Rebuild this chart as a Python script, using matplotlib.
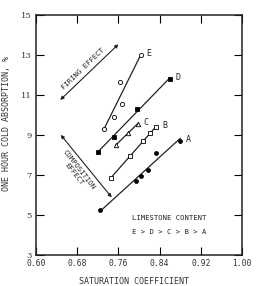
import numpy as np
import matplotlib
matplotlib.use("Agg")
import matplotlib.pyplot as plt

# ---- data ----
E_x = [0.732, 0.751, 0.767, 0.763, 0.803]
E_y = [9.29, 9.91, 10.56, 11.66, 12.97]
D_x = [0.720, 0.751, 0.797, 0.860]
D_y = [8.14, 8.89, 10.31, 11.79]
C_x = [0.755, 0.778, 0.798]
C_y = [8.48, 9.09, 9.56]
B_x = [0.746, 0.783, 0.807, 0.822, 0.834]
B_y = [6.86, 7.96, 8.69, 9.09, 9.41]
A_x = [0.725, 0.794, 0.804, 0.817, 0.833, 0.880]
A_y = [5.23, 6.70, 6.95, 7.25, 8.11, 8.71]

series_names = ["E", "D", "C", "B", "A"]
x_ticks = [0.60, 0.68, 0.76, 0.84, 0.92, 1.00]
y_ticks = [3, 5, 7, 9, 11, 13, 15]

fig = plt.figure(figsize=(2.63, 2.86), dpi=100)
ax = fig.add_axes([0.137, 0.108, 0.783, 0.841])

styles = {
    "E": dict(marker="o", mfc="white", ms=3.0),
    "D": dict(marker="s", mfc="black", ms=3.0),
    "C": dict(marker="^", mfc="white", ms=3.2),
    "B": dict(marker="s", mfc="white", ms=3.0),
    "A": dict(marker="o", mfc="black", ms=2.8),
}
data = {"E": (E_x, E_y), "D": (D_x, D_y), "C": (C_x, C_y), "B": (B_x, B_y), "A": (A_x, A_y)}

mono = "DejaVu Sans Mono"
ink = "#222222"
for name in series_names:
    xs, ys = np.array(data[name][0]), np.array(data[name][1])
    if name == "E":
        lx = np.array([xs[0], xs[-1]]); ly = np.array([ys[0], ys[-1]])
    else:
        k, b = np.polyfit(xs, ys, 1)
        lx = np.array([xs.min(), xs.max()]); ly = k * lx + b
    ax.plot(lx, ly, color=ink, lw=0.9, zorder=2)
    st = styles[name]
    ax.plot(xs, ys, linestyle="none", marker=st["marker"], mfc=st["mfc"],
            mec="black", mew=0.6, ms=st["ms"], zorder=3)
    i = int(np.argmax(xs))
    ax.annotate(name, xy=(xs[i], ys[i]), xytext=(4, 1), textcoords="offset points",
                fontsize=6, family=mono, color=ink, va="center")

# effect arrows
ax.annotate("", xy=(0.647, 10.74), xytext=(0.760, 13.52),
            arrowprops=dict(arrowstyle="<|-|>", color=ink, lw=0.8,
                            mutation_scale=5, shrinkA=0, shrinkB=0))
ax.text(0.692, 12.28, "FIRING EFFECT", rotation=44, fontsize=5.2, family=mono,
        ha="center", va="center", color=ink, rotation_mode="anchor")
ax.annotate("", xy=(0.648, 9.0), xytext=(0.747, 5.88),
            arrowprops=dict(arrowstyle="<|-|>", color=ink, lw=0.8,
                            mutation_scale=5, shrinkA=0, shrinkB=0))
ax.text(0.679, 7.15, "COMPOSITION\nEFFECT", rotation=-52, fontsize=5.2, family=mono,
        ha="center", va="center", color=ink, rotation_mode="anchor",
        multialignment="center", linespacing=1.1)

ax.text(0.787, 4.83, "LIMESTONE CONTENT", fontsize=5.2, family=mono,
        ha="left", va="center", color=ink)
ax.text(0.787, 4.17, "E > D > C > B > A", fontsize=5.2, family=mono,
        ha="left", va="center", color=ink)

ax.set_xlim(x_ticks[0], x_ticks[-1])
ax.set_ylim(y_ticks[0], y_ticks[-1])
ax.set_xticks(x_ticks)
ax.set_yticks(y_ticks)
ax.set_xticklabels([f"{v:.2f}" for v in x_ticks], fontsize=5.8, family=mono, color="#333333")
ax.set_yticklabels([str(v) for v in y_ticks], fontsize=6, family="DejaVu Serif", color="#333333")
ax.tick_params(direction="in", length=6, width=0.8, top=True, right=True, pad=3)
for s in ax.spines.values():
    s.set_linewidth(1.1)
    s.set_color(ink)

ax.set_xlabel("SATURATION COEFFICIENT", fontsize=6, family=mono, color="#333333")
ax.set_ylabel("ONE HOUR COLD ABSORPTION, %", fontsize=6.0, family=mono, color="#333333")
ax.xaxis.set_label_coords(0.476, -0.092)
ax.yaxis.set_label_coords(-0.122, 0.547)

fig.savefig("out.png", dpi=100)
